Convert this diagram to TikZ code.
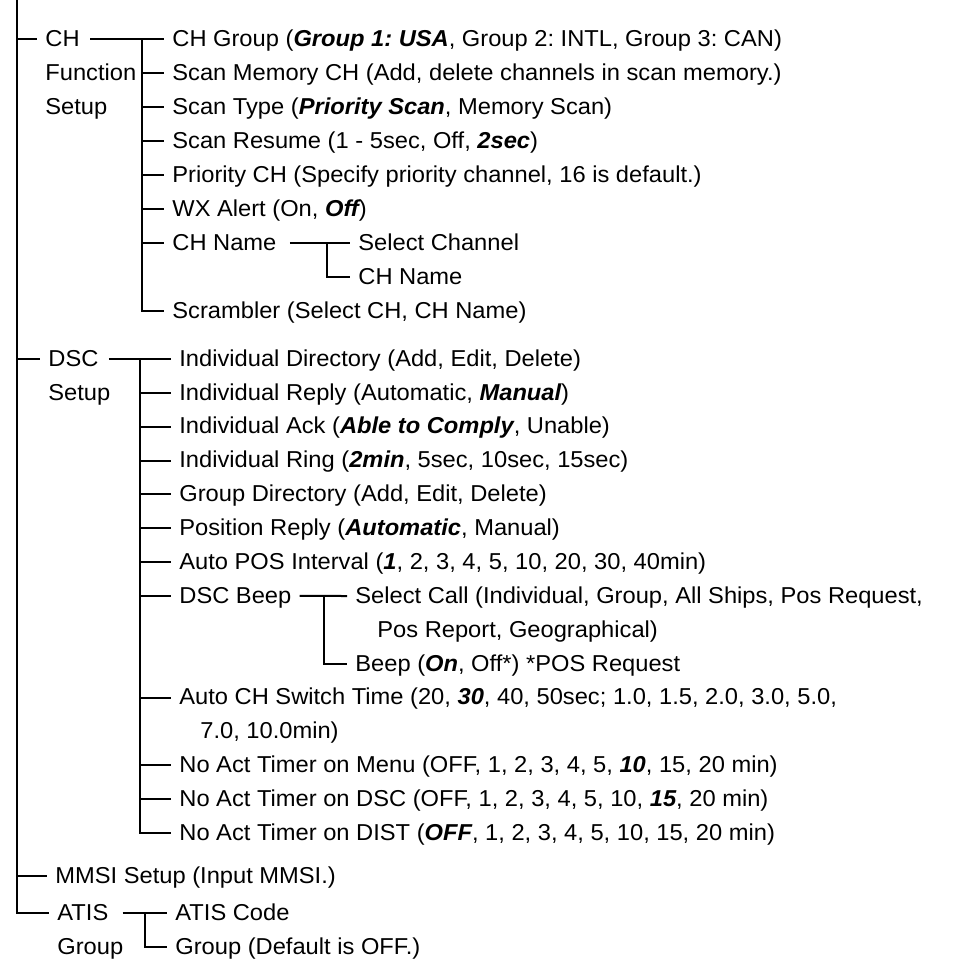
\documentclass[tikz,border=0pt]{standalone}
\usepackage{fontspec}
\setmainfont{Liberation Sans}[FakeStretch=1.03]
\usetikzlibrary{positioning}
\frenchspacing
\newcommand{\defval}[1]{{\bfseries\itshape #1}}
\tikzset{
  every picture/.style={font=\fontsize{11.5}{13}\selectfont},
  entry/.style={anchor=west,inner xsep=2pt,inner ysep=0pt,text height=0.72em,text depth=0pt},
  link/.style={line width=1pt,shorten >=2pt},
  trunk/.style={link,line width=1.2pt},
}

\begin{document}
\begin{tikzpicture}[x=0.5pt,y=-0.5pt]
  \useasboundingbox (0,0) rectangle (956,964);
  % first level
  \coordinate (top) at (17,0);
  \node[entry] (ch)    at (41,39)  {CH};
  \node[entry] (chB)   at (41,73)  {Function};
  \node[entry] (chC)   at (41,107) {Setup};
  \node[entry] (dsc)   at (44,359) {DSC};
  \node[entry] (dscB)  at (44,393) {Setup};
  \node[entry] (mmsi)  at (51,876) {MMSI Setup (Input MMSI.)};
  \node[entry] (atis)  at (53,913) {ATIS};
  \node[entry] (atisB) at (53,947) {Group};
  \draw[trunk] (top) |- (atis.west);
  \foreach \n in {ch,dsc,mmsi}
    \draw[trunk] (top |- \n.west) -- (\n.west);

  % CH function setup
  \coordinate (chbus) at (142,39);
  \foreach \n/\r/\t in {
      chgrp/0/{CH Group (\defval{Group 1: USA}, Group 2: INTL, Group 3: CAN)},
      scanmem/1/{Scan Memory CH (Add, delete channels in scan memory.)},
      scantype/2/{Scan Type (\defval{Priority Scan}, Memory Scan)},
      resume/3/{Scan Resume (1 - 5sec, Off, \defval{2sec})},
      prio/4/{Priority CH (Specify priority channel, 16 is default.)},
      wx/5/{WX Alert (On, \defval{Off})},
      chname/6/{CH Name},
      scrambler/8/{Scrambler (Select CH, CH Name)}}
    \node[entry] (\n) at (168,{39+34*\r}) {\t};
  \draw[link,shorten <=3pt] (ch.east) -- (chgrp.west);
  \draw[link] (chbus) |- (scrambler.west);
  \foreach \n in {scanmem,scantype,resume,prio,wx,chname}
    \draw[link] (chbus |- \n.west) -- (\n.west);
  \coordinate (nmbus) at (327,243);
  \node[entry] (selch) at (354,243) {Select Channel};
  \node[entry] (chnm)  at (354,277) {CH Name};
  \draw[link,shorten <=4.5pt] (chname.east) -- (selch.west);
  \draw[link] (nmbus) |- (chnm.west);

  % DSC setup
  \coordinate (dscbus) at (140,359);
  \foreach \n/\r/\t in {
      inddir/0/{Individual Directory (Add, Edit, Delete)},
      indreply/1/{Individual Reply (Automatic, \defval{Manual})},
      indack/2/{Individual Ack (\defval{Able to Comply}, Unable)},
      indring/3/{Individual Ring (\defval{2min}, 5sec, 10sec, 15sec)},
      grpdir/4/{Group Directory (Add, Edit, Delete)},
      posreply/5/{Position Reply (\defval{Automatic}, Manual)},
      autopos/6/{Auto POS Interval (\defval{1}, 2, 3, 4, 5, 10, 20, 30, 40min)},
      dscbeep/7/{DSC Beep},
      autoch/10/{Auto CH Switch Time (20, \defval{30}, 40, 50sec; 1.0, 1.5, 2.0, 3.0, 5.0,},
      noactmenu/12/{No Act Timer on Menu (OFF, 1, 2, 3, 4, 5, \defval{10}, 15, 20 min)},
      noactdsc/13/{No Act Timer on DSC (OFF, 1, 2, 3, 4, 5, 10, \defval{15}, 20 min)},
      noactdist/14/{No Act Timer on DIST (\defval{OFF}, 1, 2, 3, 4, 5, 10, 15, 20 min)}}
    \node[entry] (\n) at (175,{359+33.85*\r}) {\t};
  \node[entry] (autochB) at (196,{359+33.85*11}) {7.0, 10.0min)};
  \draw[link,shorten <=3pt] (dsc.east) -- (inddir.west);
  \draw[link] (dscbus) |- (noactdist.west);
  \foreach \n in {indreply,indack,indring,grpdir,posreply,autopos,dscbeep,autoch,noactmenu,noactdsc}
    \draw[link] (dscbus |- \n.west) -- (\n.west);
  \coordinate (beepbus) at (324,596);
  \node[entry] (selcall)  at (351,596) {Select Call (Individual, Group, All Ships, Pos Request,};
  \node[entry] (selcallB) at (373,630) {Pos Report, Geographical)};
  \node[entry] (beep)     at (351,664) {Beep (\defval{On}, Off*) *POS Request};
  \draw[link,shorten <=2pt] (dscbeep.east) -- (selcall.west);
  \draw[link] (beepbus) |- (beep.west);

  % ATIS group
  \coordinate (atisbus) at (145,913);
  \node[entry] (atiscode) at (171,913) {ATIS Code};
  \node[entry] (atisgrp)  at (171,947) {Group (Default is OFF.)};
  \draw[link,shorten <=5pt] (atis.east) -- (atiscode.west);
  \draw[link] (atisbus) |- (atisgrp.west);
\end{tikzpicture}
\end{document}
